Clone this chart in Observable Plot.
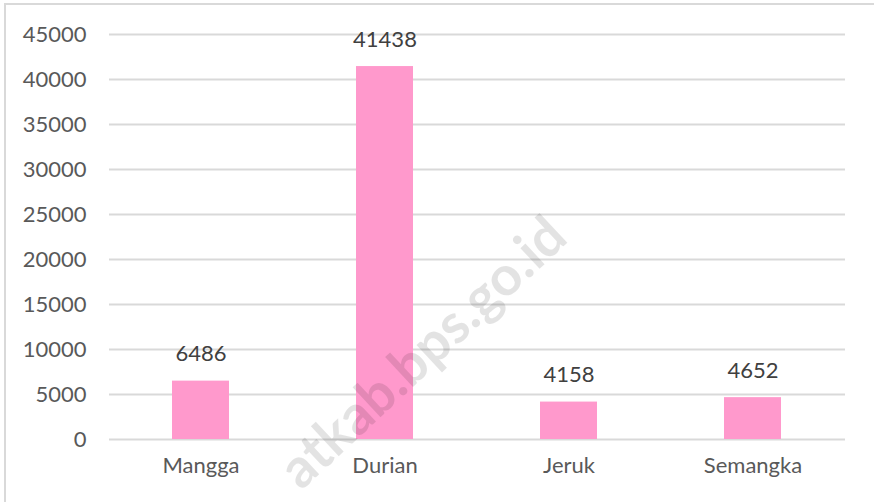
<!DOCTYPE html>
<html>
<head>
<meta charset="utf-8">
<script src="https://cdn.jsdelivr.net/npm/d3@7"></script>
<script src="https://cdn.jsdelivr.net/npm/@observablehq/plot@0.6"></script>
<style>
  html, body { margin: 0; padding: 0; background: #fff; }
  #wrap { position: relative; width: 874px; height: 502px; overflow: hidden; }
  #border { position: absolute; left: 4px; top: 3px; width: 880px; height: 520px; border: 2px solid #d9d9d9; box-sizing: border-box; pointer-events: none; }
</style>
</head>
<body>
<div id="wrap"><div id="chart"></div><div id="border"></div></div>
<script>
const categories = ["Mangga", "Durian", "Jeruk", "Semangka"];
const values = [6486, 41438, 4158, 4652];
const yTicks = [0, 5000, 10000, 15000, 20000, 25000, 30000, 35000, 40000, 45000];
const watermark = ["atkab.bps.go.id"];

const data = categories.map((c, i) => ({ category: c, value: values[i] }));

const chart = Plot.plot({
  width: 874,
  height: 502,
  marginLeft: 109,
  marginRight: 29,
  marginTop: 34,
  marginBottom: 63,
  style: { fontFamily: "Lato, 'Open Sans', sans-serif", color: "#595959", background: "transparent" },
  x: { domain: categories, paddingInner: 0.69, paddingOuter: 0.345, label: null },
  y: { domain: [0, 45000], label: null },
  marks: [
    Plot.gridY(yTicks, { stroke: "#d9d9d9", strokeOpacity: 1, strokeWidth: 2 }),
    Plot.barY(data, { x: "category", y: "value", fill: "#FF99CC" }),
    Plot.text(data, { x: "category", y: "value", text: d => String(d.value), dy: -27, fontSize: 22, fill: "#404040" }),
    Plot.axisY({ ticks: yTicks, tickSize: 0, tickPadding: 23, fontSize: 22, tickFormat: d => String(d), label: null, fill: "#595959" }),
    Plot.axisX({ tickSize: 0, tickPadding: 18, fontSize: 22, label: null, fill: "#595959" }),
    Plot.text(watermark, { frameAnchor: "middle", text: d => d, dx: -54, dy: 116, rotate: -43, fontSize: 55, fontWeight: "bold", fill: "#000", fillOpacity: 0.11 })
  ]
});
document.getElementById("chart").appendChild(chart);
</script>
</body>
</html>
